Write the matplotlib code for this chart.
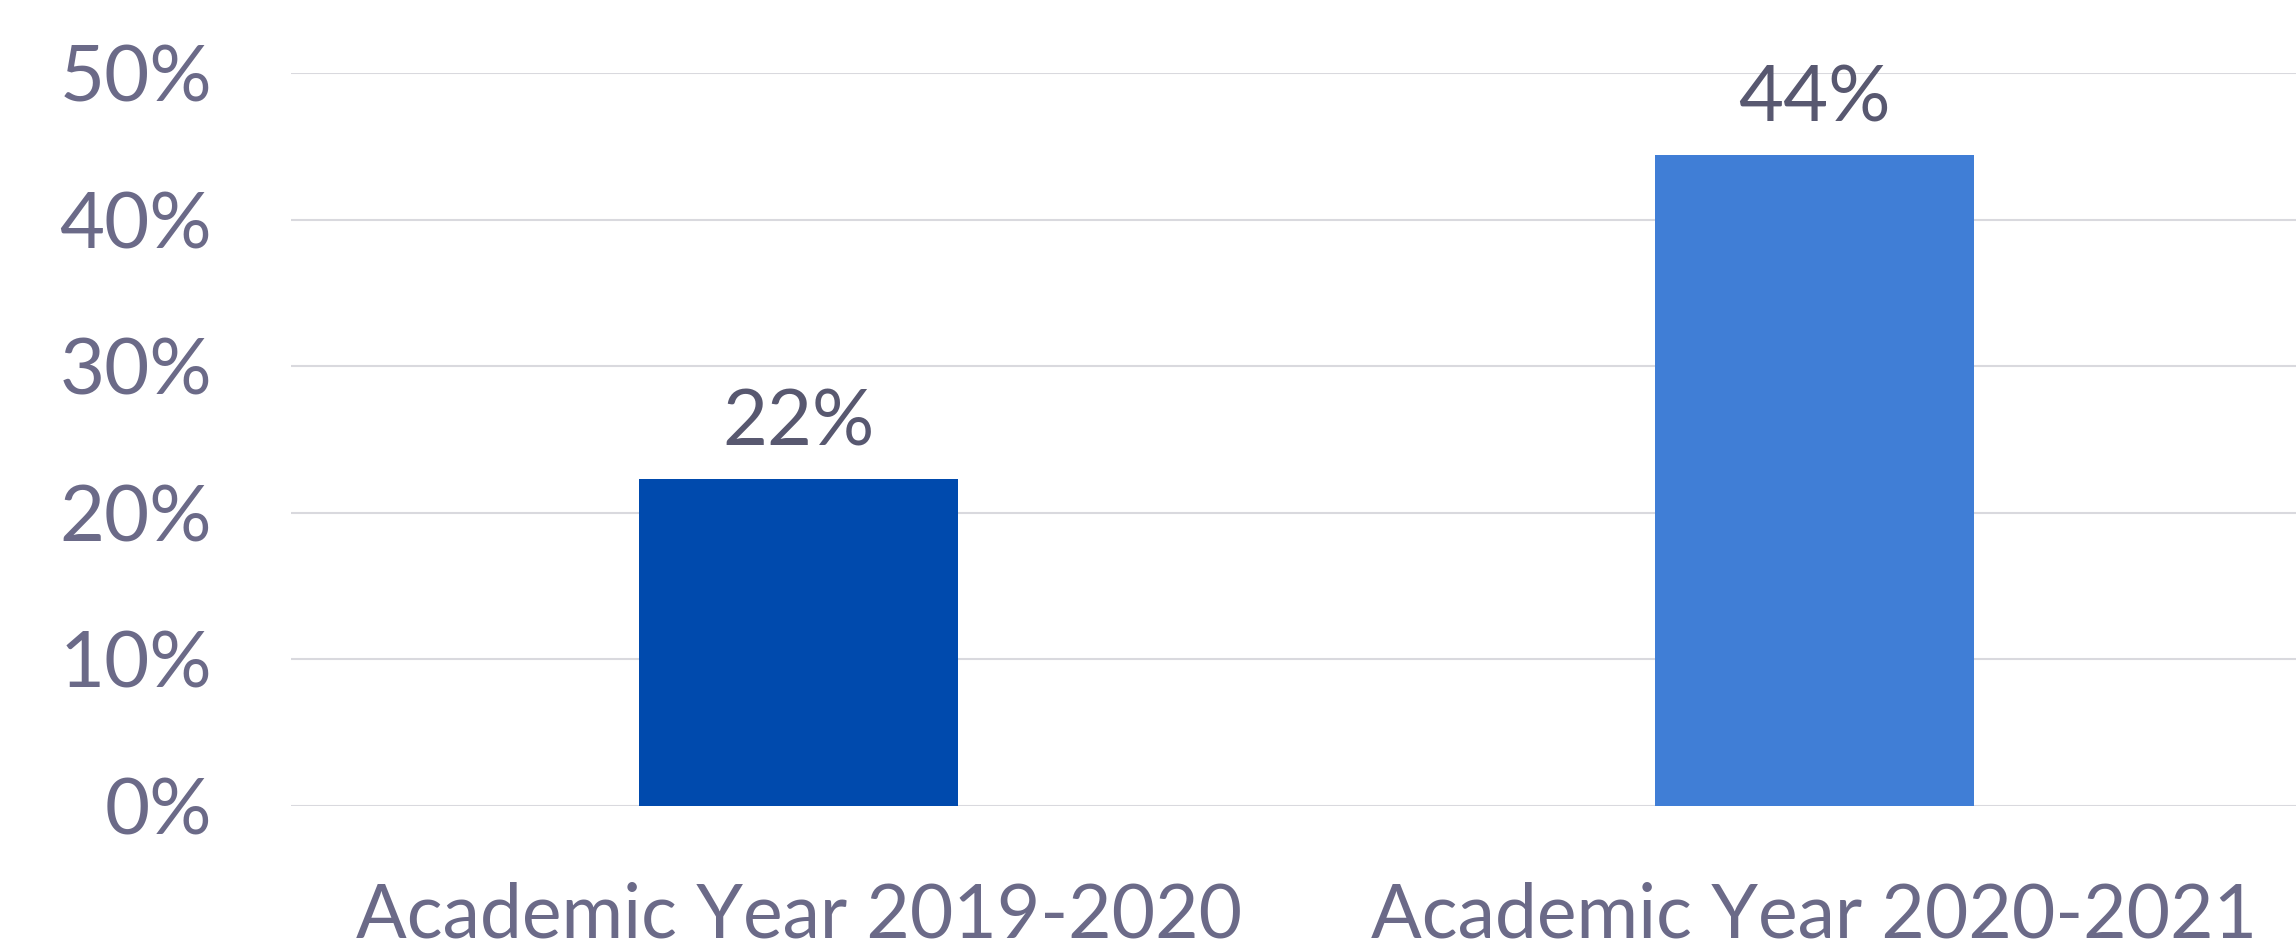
import matplotlib.pyplot as plt
from matplotlib.ticker import PercentFormatter

# Data
categories = ['Academic Year 2019-2020', 'Academic Year 2020-2021']
values = [0.223, 0.444]
bar_colors = ['#004aad', '#407ed6']

text_color = '#6b6a88'
label_color = '#585870'
plt.rcParams['font.family'] = ['Lato', 'DejaVu Sans']

W, H = 2296, 946
fig = plt.figure(figsize=(W / 100, H / 100), dpi=100)
# plot area runs a little past the right edge, as in the original
left, right, bottom, top = 291, 2322, 806, 73
ax = fig.add_axes([left / W, 1 - bottom / H, (right - left) / W, (bottom - top) / H])

x = range(len(categories))
bars = ax.bar(x, values, width=0.314, color=bar_colors, zorder=3)

for b, v in zip(bars, values):
    ax.annotate(f'{v:.0%}', (b.get_x() + b.get_width() / 2, v),
                xytext=(0, 14), textcoords='offset points',
                ha='center', va='bottom', fontsize=56, color=label_color)

ax.set_xlim(-0.5, 1.5)
ax.set_ylim(0, 0.5)
ax.set_yticks([0, 0.1, 0.2, 0.3, 0.4, 0.5])
ax.yaxis.set_major_formatter(PercentFormatter(1.0, decimals=0))
ax.set_xticks(list(x))
ax.set_xticklabels(categories)

ax.tick_params(axis='y', length=0, pad=57, labelsize=56, labelcolor=text_color)
ax.tick_params(axis='x', length=0, pad=54, labelsize=54, labelcolor=text_color)

ax.grid(axis='y', color='#d9d9de', linewidth=1.5, zorder=0)
for s in ax.spines.values():
    s.set_visible(False)

fig.savefig('out.png', dpi=100, facecolor='white')
